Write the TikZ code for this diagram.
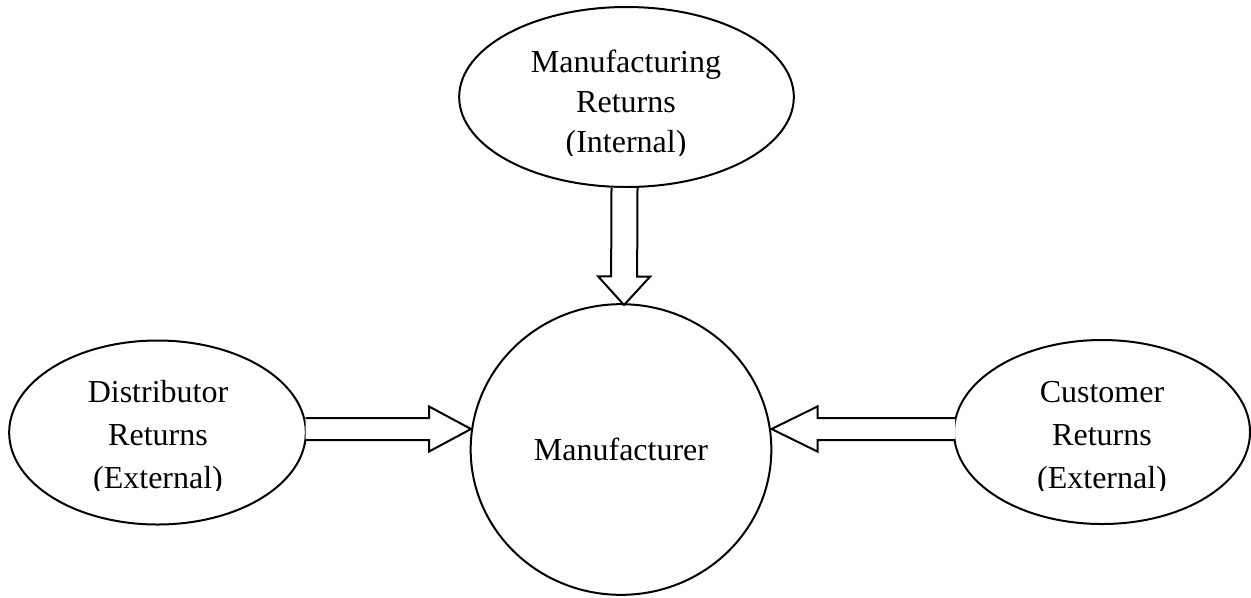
\documentclass[tikz,border=0pt]{standalone}
\usepackage{fontspec}
\setmainfont{Liberation Serif}
\usetikzlibrary{shapes.geometric,calc}

% hollow block arrow from #1 (tail) to #2 (tip):
% #3 shaft half-width, #4 head half-width, #5 head length
\newcommand\hollowarrow[5]{%
  \coordinate (hb) at ($(#2)!#5!(#1)$);
  \draw[hollow]
    ($(#1)!#3!90:(#2)$) -- ($(hb)!#3!90:(#2)$) -- ($(hb)!#4!90:(#2)$)
    -- (#2)
    -- ($(hb)!#4!-90:(#2)$) -- ($(hb)!#3!-90:(#2)$) -- ($(#1)!#3!-90:(#2)$);
}

\begin{document}
\begin{tikzpicture}[x=0.75pt,y=-0.75pt,
  outline/.style={draw=black,line width=1.5pt,ellipse,inner sep=0pt},
  hollow/.style={draw=black,line width=1.5pt,line join=miter,fill=white},
  label3/.style={align=center,anchor=base,inner sep=0pt,
    font=\fontsize{24}{#1}\selectfont},
  label3/.default=31.9pt]
\useasboundingbox (0,0) rectangle (1251,597);

% the four bubbles
\node[outline,minimum width=251pt,minimum height=135pt] (internal) at (626.5,97) {};
\node[outline,minimum width=222.5pt,minimum height=138pt] (distrib) at (157.5,432.5) {};
\node[outline,minimum width=222pt,minimum height=138pt] (customer) at (1102,432) {};
\node[outline,minimum width=225.5pt,minimum height=218pt,
      font=\fontsize{24}{30}\selectfont] (mfr) at (621,449.5) {Manufacturer};

% bubble texts (anchored at the last baseline), the last line trimmed just under it
\begin{scope}
  \clip (0,0) rectangle (1251,155);
  \node[label3=30pt] (internaltext) at (626,152.7)
    {Manufacturing\\Returns\\(Internal)};
\end{scope}
\begin{scope}
  \clip (0,0) rectangle (1251,490);
  \node[label3] (distribtext) at (158,488)
    {Distributor\\Returns\\(External)};
  \node[label3] (customertext) at (1102,488)
    {Customer\\Returns\\(External)};
\end{scope}

% flow arrows into the manufacturer
\coordinate (topTail) at (624.5,188);
\coordinate (topTip)  at (624,305);
\coordinate (leftTail) at (305.5,429);
\coordinate (leftTip)  at (471,429);
\coordinate (rightTail) at (955,429);
\coordinate (rightTip)  at (771.5,429);

\hollowarrow{topTail}{topTip}{9.75pt}{19.5pt}{21.4pt}
\hollowarrow{leftTail}{leftTip}{8.25pt}{16.9pt}{31.5pt}
\hollowarrow{rightTail}{rightTip}{8.25pt}{16.9pt}{34.5pt}
\end{tikzpicture}
\end{document}
